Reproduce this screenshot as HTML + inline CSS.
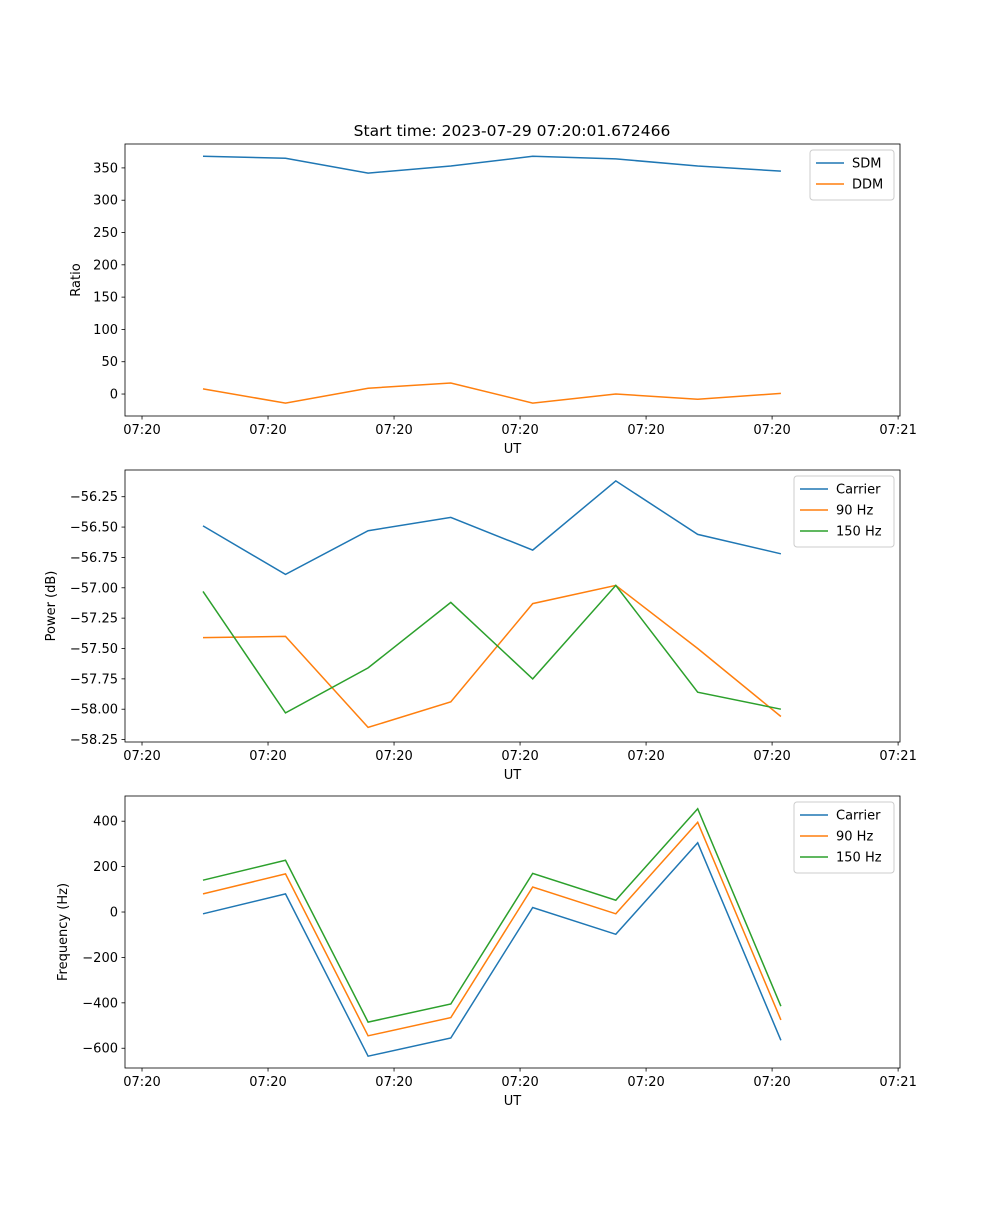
<!DOCTYPE html>
<html><head><meta charset="utf-8"><style>
body{margin:0;background:#fff;}
svg text{font-family:"DejaVu Sans","Liberation Sans",sans-serif;font-size:13px;fill:#000;}
</style></head><body>
<svg id="fig" width="1000" height="1200" xmlns="http://www.w3.org/2000/svg">
<text x="512" y="136" text-anchor="middle" style="font-size:15.5px">Start time: 2023-07-29 07:20:01.672466</text>
</svg>
<script>
const times=[4.84,11.39,17.94,24.5,31.0,37.6,44.1,50.7];
const xTicks=[0,10,20,30,40,50,60];
const xTickLabels=["07:20","07:20","07:20","07:20","07:20","07:20","07:21"];
const sdm=[368,365,342,353,368,364,353,345];
const ddm=[8,-14,9,17,-14,0,-8,1];
const pCarrier=[-56.49,-56.89,-56.53,-56.42,-56.69,-56.12,-56.56,-56.72];
const p90=[-57.41,-57.40,-58.15,-57.94,-57.13,-56.98,-57.50,-58.06];
const p150=[-57.03,-58.03,-57.66,-57.12,-57.75,-56.98,-57.86,-58.00];
const fCarrier=[-8,80,-635,-555,20,-98,305,-565];
const f90=[80,168,-545,-465,110,-8,395,-475];
const f150=[140,228,-485,-405,170,52,455,-415];
const ticks1=[0,50,100,150,200,250,300,350];
const ticks2=[-56.25,-56.5,-56.75,-57,-57.25,-57.5,-57.75,-58,-58.25];
const ticks3=[-600,-400,-200,0,200,400];
const C=["#1f77b4","#ff7f0e","#2ca02c"];
const NS="http://www.w3.org/2000/svg";
const svg=document.getElementById('fig');
function mk(t,a,txt){const e=document.createElementNS(NS,t);for(const k in a)e.setAttribute(k,a[k]);if(txt!==undefined)e.textContent=txt;svg.appendChild(e);return e;}
const L=125,R=900,X0=-1.35,X1=60.15;
function xs(t){return L+(t-X0)/(X1-X0)*(R-L);}
function panel(name,top,bot,y0,y1,yt,fmt,ylabel,series,legend){
  const ys=v=>bot-(v-y0)/(y1-y0)*(bot-top);
  series.forEach((s,i)=>{
    const d=s.vals.map((v,j)=>(j?'L':'M')+xs(times[j]).toFixed(1)+' '+ys(v).toFixed(1)).join(' ');
    const p=mk('path',{d:d,fill:'none',stroke:C[i],'stroke-width':1.5});
    
    
  });
  const f=mk('rect',{x:L,y:top,width:R-L,height:bot-top,fill:'none',stroke:'#000','stroke-width':0.8});
  
  
  xTicks.forEach((t,i)=>{
    mk('line',{x1:xs(t),x2:xs(t),y1:bot,y2:bot+3.5,stroke:'#000','stroke-width':0.8});
    const tx=mk('text',{x:xs(t),y:bot+18,'text-anchor':'middle'},xTickLabels[i]);
    
    
  });
  yt.forEach(v=>{
    mk('line',{x1:L-3.5,x2:L,y1:ys(v),y2:ys(v),stroke:'#000','stroke-width':0.8});
    const tx=mk('text',{x:L-7,y:ys(v)+4.5,'text-anchor':'end'},fmt(v));
    
    
  });
  const xl=mk('text',{x:(L+R)/2,y:bot+37,'text-anchor':'middle'},'UT');
  
  
  const yl=mk('text',{x:0,y:0,'text-anchor':'middle',transform:`translate(${legend.yx},${(top+bot)/2}) rotate(-90)`},ylabel);
  
  
  const h=series.length*21+8;
  const lb=mk('rect',{x:legend.x,y:top+6,width:R-6-legend.x,height:h,rx:3,fill:'#fff',stroke:'#ccc','stroke-width':1});
  
  
  series.forEach((s,i)=>{
    const y=top+19+i*21;
    mk('line',{x1:legend.x+6,x2:legend.x+34,y1:y,y2:y,stroke:C[i],'stroke-width':1.5});
    const t=mk('text',{x:legend.x+42,y:y+4.5},s.label);
    
    
  });
}
panel('ratio-panel',144,416,-34,387,ticks1,v=>String(v),'Ratio',
  [{key:'sdm',label:'SDM',vals:sdm},{key:'ddm',label:'DDM',vals:ddm}],{x:810,yx:80});
panel('power-panel',470,742,-58.27,-56.03,ticks2,v=>v.toFixed(2).replace('-','\u2212'),'Power (dB)',
  [{key:'carrier',label:'Carrier',vals:pCarrier},{key:'90hz',label:'90 Hz',vals:p90},{key:'150hz',label:'150 Hz',vals:p150}],{x:794,yx:55});
panel('frequency-panel',796,1068,-687,511,ticks3,v=>String(v).replace('-','\u2212'),'Frequency (Hz)',
  [{key:'carrier',label:'Carrier',vals:fCarrier},{key:'90hz',label:'90 Hz',vals:f90},{key:'150hz',label:'150 Hz',vals:f150}],{x:794,yx:67});
</script>
</body></html>
